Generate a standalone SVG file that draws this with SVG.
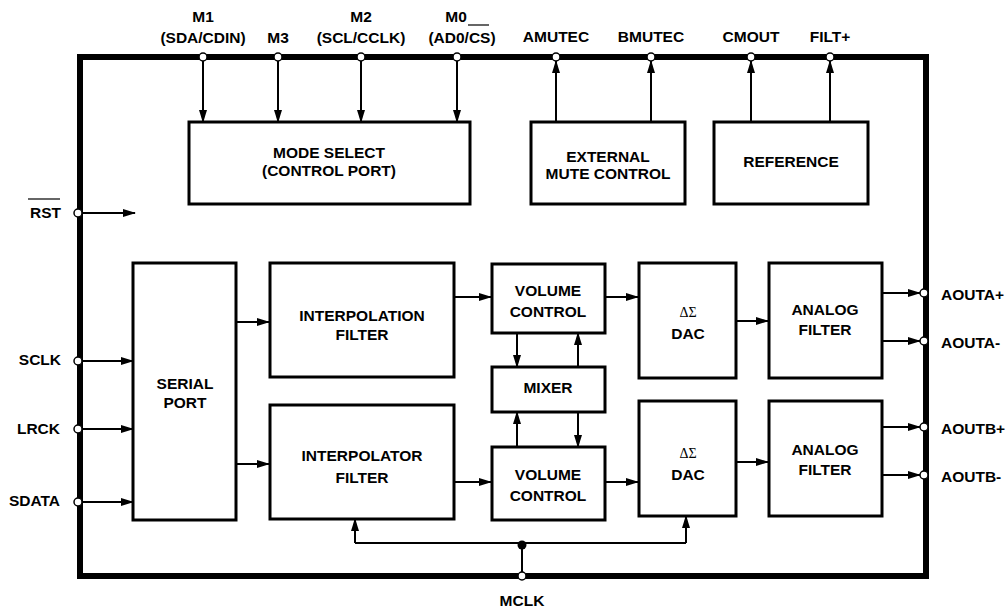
<svg xmlns="http://www.w3.org/2000/svg" width="1008" height="609" viewBox="0 0 1008 609">
<style>
text{font-family:"Liberation Sans",Arial,sans-serif;font-weight:bold;font-size:15.5px;fill:#000}
.c{text-anchor:middle}
.e{text-anchor:end}
.box{fill:#fff;stroke:#000;stroke-width:3}
.w{fill:none;stroke:#000;stroke-width:2}
.a{fill:none;stroke:#000;stroke-width:2;marker-end:url(#ah)}
.pin{fill:#fff;stroke:#000;stroke-width:1.5}
.sig{font-family:"Liberation Serif","Times New Roman",serif;font-weight:normal;font-size:14px}
</style>
<defs>
<marker id="ah" markerUnits="userSpaceOnUse" markerWidth="13" markerHeight="9" refX="12" refY="4" orient="auto">
<path d="M0,0 L13,4 L0,8 z" fill="#000"/>
</marker>
</defs>
<rect x="0" y="0" width="1008" height="609" fill="#fff"/>
<rect id="chip" x="80" y="57" width="846" height="519" fill="none" stroke="#000" stroke-width="6"/>

<g id="connectors">
<path class="a" d="M203,61 V122"/>
<path class="a" d="M278,61 V122"/>
<path class="a" d="M361,61 V122"/>
<path class="a" d="M457,61 V122"/>
<path class="a" d="M556,122 V61"/>
<path class="a" d="M651,122 V61"/>
<path class="a" d="M751,122 V61"/>
<path class="a" d="M830,122 V61"/>
<path class="a" d="M82,213 H135"/>
<path class="a" d="M82,361 H133"/>
<path class="a" d="M82,429 H133"/>
<path class="a" d="M82,502 H133"/>
<path class="a" d="M236,322 H269"/>
<path class="a" d="M236,464 H269"/>
<path class="a" d="M454,297 H491"/>
<path class="a" d="M605,297 H638"/>
<path class="a" d="M454,482 H491"/>
<path class="a" d="M605,482 H638"/>
<path class="a" d="M517,333 V367"/>
<path class="a" d="M578,367 V333"/>
<path class="a" d="M517,447 V412"/>
<path class="a" d="M578,412 V447"/>
<path class="a" d="M736,321 H768"/>
<path class="a" d="M736,462 H768"/>
<path class="a" d="M882,293 H920"/>
<path class="a" d="M882,341 H920"/>
<path class="a" d="M882,427 H920"/>
<path class="a" d="M882,475 H920"/>
<path class="w" d="M355,543 H686"/>
<path class="a" d="M355,543 V519"/>
<path class="a" d="M686,543 V516"/>
<path class="w" d="M522,543 V572"/>
<circle cx="522" cy="545" r="4.5" fill="#000"/>
</g>

<g id="pins">
<circle class="pin" cx="203" cy="57" r="4"/>
<circle class="pin" cx="278" cy="57" r="4"/>
<circle class="pin" cx="361" cy="57" r="4"/>
<circle class="pin" cx="457" cy="57" r="4"/>
<circle class="pin" cx="556" cy="57" r="4"/>
<circle class="pin" cx="651" cy="57" r="4"/>
<circle class="pin" cx="751" cy="57" r="4"/>
<circle class="pin" cx="830" cy="57" r="4"/>
<circle class="pin" cx="78" cy="213" r="4"/>
<circle class="pin" cx="78" cy="361" r="4"/>
<circle class="pin" cx="78" cy="429" r="4"/>
<circle class="pin" cx="78" cy="502" r="4"/>
<circle class="pin" cx="924" cy="293" r="4"/>
<circle class="pin" cx="924" cy="341" r="4"/>
<circle class="pin" cx="924" cy="427" r="4"/>
<circle class="pin" cx="924" cy="475" r="4"/>
<circle class="pin" cx="522" cy="576" r="4"/>
</g>

<g id="pin-labels">
<text class="c" x="203" y="22">M1</text>
<text class="c" x="203" y="43">(SDA/CDIN)</text>
<text class="c" x="278" y="43">M3</text>
<text class="c" x="361" y="22">M2</text>
<text class="c" x="361" y="43">(SCL/CCLK)</text>
<text class="c" x="456" y="22">M0</text>
<line x1="468" y1="25" x2="489" y2="25" stroke="#000" stroke-width="1.2"/>
<text class="c" x="462" y="43">(AD0/CS)</text>
<text class="c" x="556" y="41.5">AMUTEC</text>
<text class="c" x="651" y="41.5">BMUTEC</text>
<text class="c" x="751" y="41.5">CMOUT</text>
<text class="c" x="830" y="41.5">FILT+</text>
<text class="e" x="61" y="217.5">RST</text>
<line x1="28" y1="199" x2="60" y2="199" stroke="#000" stroke-width="1.2"/>
<text class="e" x="61" y="364.5">SCLK</text>
<text class="e" x="60" y="433.5">LRCK</text>
<text class="e" x="60" y="505.5">SDATA</text>
<text x="941" y="299.5">AOUTA+</text>
<text x="941" y="348">AOUTA-</text>
<text x="941" y="433.5">AOUTB+</text>
<text x="941" y="482">AOUTB-</text>
<text class="c" x="522" y="605.5">MCLK</text>
</g>

<g id="mode-select">
<rect class="box" x="189" y="122" width="281" height="82"/>
<text class="c" x="329" y="157.5">MODE SELECT</text>
<text class="c" x="329" y="175.5">(CONTROL PORT)</text>
</g>
<g id="external-mute">
<rect class="box" x="531" y="122" width="154" height="82"/>
<text class="c" x="608" y="161.5">EXTERNAL</text>
<text class="c" x="608" y="178.5">MUTE CONTROL</text>
</g>
<g id="reference">
<rect class="box" x="714" y="122" width="154" height="82"/>
<text class="c" x="791" y="166.5">REFERENCE</text>
</g>
<g id="serial-port">
<rect class="box" x="133" y="263" width="103" height="257"/>
<text class="c" x="185" y="388.5">SERIAL</text>
<text class="c" x="185" y="407.5">PORT</text>
</g>
<g id="interpolation-filter">
<rect class="box" x="270" y="263" width="184" height="114"/>
<text class="c" x="362" y="321">INTERPOLATION</text>
<text class="c" x="362" y="340">FILTER</text>
</g>
<g id="interpolator-filter">
<rect class="box" x="270" y="405" width="184" height="114"/>
<text class="c" x="362" y="460.5">INTERPOLATOR</text>
<text class="c" x="362" y="482.5">FILTER</text>
</g>
<g id="volume-a">
<rect class="box" x="492" y="264" width="113" height="69"/>
<text class="c" x="548" y="295.5">VOLUME</text>
<text class="c" x="548" y="316.5">CONTROL</text>
</g>
<g id="mixer">
<rect class="box" x="492" y="367" width="113" height="45"/>
<text class="c" x="548" y="392.5">MIXER</text>
</g>
<g id="volume-b">
<rect class="box" x="492" y="447" width="113" height="73"/>
<text class="c" x="548" y="479.5">VOLUME</text>
<text class="c" x="548" y="500.5">CONTROL</text>
</g>
<g id="dac-a">
<rect class="box" x="639" y="263" width="97" height="115"/>
<text class="c sig" x="688" y="317">ΔΣ</text>
<text class="c" x="688" y="338.5">DAC</text>
</g>
<g id="dac-b">
<rect class="box" x="639" y="401" width="97" height="115"/>
<text class="c sig" x="688" y="458">ΔΣ</text>
<text class="c" x="688" y="479.5">DAC</text>
</g>
<g id="analog-a">
<rect class="box" x="769" y="263" width="113" height="115"/>
<text class="c" x="825" y="314.5">ANALOG</text>
<text class="c" x="825" y="334.5">FILTER</text>
</g>
<g id="analog-b">
<rect class="box" x="769" y="401" width="113" height="115"/>
<text class="c" x="825" y="454.5">ANALOG</text>
<text class="c" x="825" y="474.5">FILTER</text>
</g>
</svg>
